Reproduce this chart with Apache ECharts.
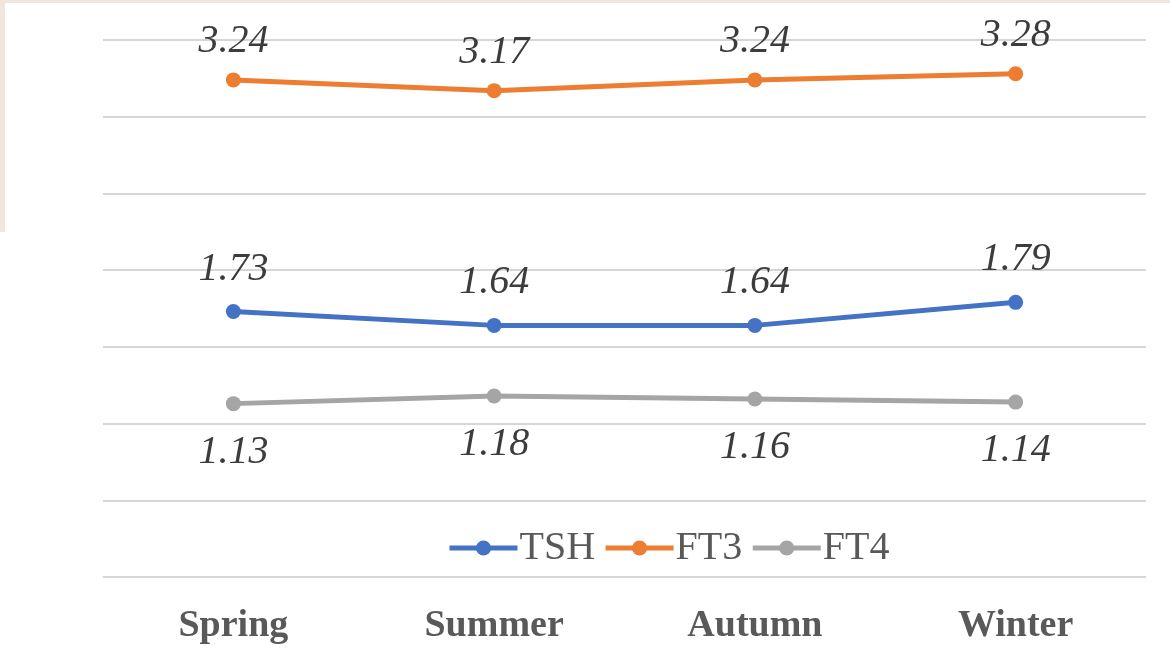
<!DOCTYPE html>
<html>
<head>
<meta charset="utf-8">
<style>
  html, body { margin: 0; padding: 0; background: #ffffff; }
  #wrap { position: relative; width: 1170px; height: 648px; overflow: hidden; background: #ffffff; }
  #edgeTop { position: absolute; left: 0; top: 0; width: 1170px; height: 3px; background: #f1e6df; }
  #edgeLeft { position: absolute; left: 0; top: 0; width: 5px; height: 232px; background: #f1e6df; }
  #chart { position: absolute; left: 0; top: 0; width: 1170px; height: 648px; }
</style>
<script src="https://cdn.jsdelivr.net/npm/echarts@6/dist/echarts.min.js"></script>
</head>
<body>
<div id="wrap">
  <div id="chart"></div>
  <div id="edgeTop"></div>
  <div id="edgeLeft"></div>
</div>
<script>
// Seasonal mean thyroid hormone levels
const seasons = ['Spring', 'Summer', 'Autumn', 'Winter'];
const tsh = [1.73, 1.64, 1.64, 1.79];
const ft3 = [3.24, 3.17, 3.24, 3.28];
const ft4 = [1.13, 1.18, 1.16, 1.14];

const serif = '"Liberation Serif", "DejaVu Serif", serif';
const colors = { TSH: '#4472C4', FT3: '#ED7D31', FT4: '#A5A5A5' };

function lineSeries(name, data, labelPos, labelDist) {
  const color = colors[name];
  return {
    name: name,
    type: 'line',
    data: data,
    symbol: 'circle',
    symbolSize: 15,
    lineStyle: { color: color, width: 5 },
    itemStyle: { color: color },
    label: {
      show: true,
      position: labelPos,
      distance: labelDist,
      fontFamily: serif,
      fontStyle: 'italic',
      fontSize: 40,
      color: '#3c3c3c',
      formatter: p => p.value.toFixed(2)
    },
    emphasis: { disabled: true },
    animation: false
  };
}

const chart = echarts.init(document.getElementById('chart'), null, { renderer: 'canvas' });
chart.setOption({
  backgroundColor: 'transparent',
  animation: false,
  grid: { left: 103, right: 24, top: 40, bottom: 71, containLabel: false },
  legend: {
    left: 442,
    top: 523,
    itemWidth: 68,
    itemHeight: 19,
    itemGap: 8,
    textStyle: { fontFamily: serif, fontSize: 40, color: '#595959', padding: [0, 0, 0, -3] },
    data: ['TSH', 'FT3', 'FT4'].map(n => ({
      name: n,
      lineStyle: { width: 5, color: colors[n] },
      itemStyle: { color: colors[n] }
    }))
  },
  xAxis: {
    type: 'category',
    data: seasons,
    boundaryGap: true,
    axisLine: { show: false },
    axisTick: { show: false },
    axisLabel: {
      margin: 30,
      fontFamily: serif,
      fontWeight: 'bold',
      fontSize: 38,
      color: '#595959'
    }
  },
  yAxis: {
    type: 'value',
    min: 0,
    max: 3.5,
    interval: 0.5,
    axisLabel: { show: false },
    axisLine: { show: false },
    axisTick: { show: false },
    splitLine: { lineStyle: { color: '#d6d6d6', width: 2 } }
  },
  series: [
    lineSeries('TSH', tsh, 'top', 15),
    lineSeries('FT3', ft3, 'top', 11),
    lineSeries('FT4', ft4, 'bottom', 21)
  ]
});
</script>
</body>
</html>
